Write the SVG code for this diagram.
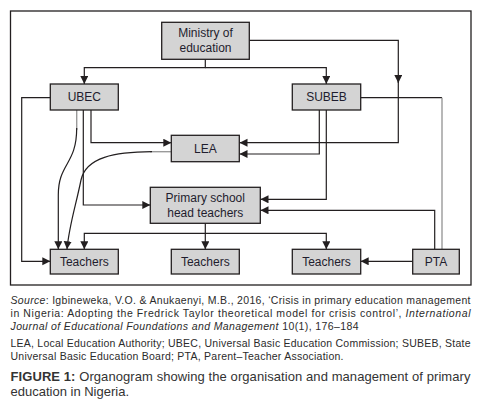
<svg xmlns="http://www.w3.org/2000/svg" width="491" height="405" viewBox="0 0 491 405">
<defs>
<marker id="ah" markerUnits="userSpaceOnUse" markerWidth="9" markerHeight="9" refX="8" refY="4" orient="auto">
<path d="M0,0 L8,4 L0,8 z" fill="#231f20"/>
</marker>
<style>
.box{fill:#d4d4d4;stroke:#231f20;stroke-width:1.3}
.bt{font-family:"Liberation Sans",Arial,sans-serif;font-size:12px;fill:#1f1d2e;text-anchor:middle}
.c{fill:none;stroke:#231f20;stroke-width:1.2}
.g{fill:none;stroke:#9a9a9a;stroke-width:1.4}
.cap{font-family:"Liberation Sans",Arial,sans-serif;font-size:10.5px;fill:#2b2b2b}
.fig{font-family:"Liberation Sans",Arial,sans-serif;font-size:13px;fill:#333}
</style>
</defs>
<rect x="10.5" y="11" width="460.5" height="274" fill="#fff" stroke="#231f20" stroke-width="1.3"/>
<g id="connectors">
<path class="c" d="M205.3,59.3 V67.7 H84.3 V84" marker-end="url(#ah)"/>
<path class="c" d="M205.3,67.7 H326.3 V84" marker-end="url(#ah)"/>
<path class="c" d="M249.3,40.3 H398.3 V83" marker-end="url(#ah)"/>
<path class="c" d="M398.3,80 V142.7 H239.5" marker-end="url(#ah)"/>
<path class="c" d="M319.3,110 V154 H239.5" marker-end="url(#ah)"/>
<path class="c" d="M326.3,110 V199.3 H260.5" marker-end="url(#ah)"/>
<path class="c" d="M360.7,97.7 H442"/>
<path class="g" d="M442,97.7 V249.3"/>
<path class="c" d="M50.3,97.7 H21.7 V261.3 H50.3" marker-end="url(#ah)"/>
<path class="c" d="M83.3,110 V205 H150.3" marker-end="url(#ah)"/>
<path class="c" d="M91,110 V142.7 H171.3" marker-end="url(#ah)"/>
<path class="g" d="M76.7,110 V130" />
<path class="c" stroke="#555" d="M76.7,128 C76.7,165 58.3,163 58.3,195 V249.3" marker-end="url(#ah)"/>
<path class="g" d="M171.3,151.7 H150"/>
<path class="c" stroke="#555" d="M152,151.7 C115,152 86,157 81,180 C76,205 69,226 67,249.3" marker-end="url(#ah)"/>
<path class="c" d="M205.3,223.3 V233.3 H84.3 V249.3" marker-end="url(#ah)"/>
<path class="c" d="M205.3,233.3 V249.3" marker-end="url(#ah)"/>
<path class="c" d="M205.3,233.3 H326.3 V249.3" marker-end="url(#ah)"/>
<path class="c" d="M412.7,261.3 H360.7" marker-end="url(#ah)"/>
<path class="c" d="M434.7,249.3 V210.3 H260.5" marker-end="url(#ah)"/>
</g>
<g id="ministry"><rect class="box" x="161.7" y="22.3" width="87.6" height="37"/><text class="bt" x="205.5" y="36.5">Ministry of</text><text class="bt" x="205.5" y="52">education</text></g>
<g id="ubec"><rect class="box" x="50.3" y="84" width="68" height="26"/><text class="bt" x="84.3" y="101.3">UBEC</text></g>
<g id="subeb"><rect class="box" x="292.3" y="84" width="68.4" height="26"/><text class="bt" x="326.5" y="101.3">SUBEB</text></g>
<g id="lea"><rect class="box" x="171.3" y="135.3" width="68" height="26.4"/><text class="bt" x="205.3" y="152.8">LEA</text></g>
<g id="head"><rect class="box" x="150.3" y="187.3" width="110" height="36"/><text class="bt" x="205.3" y="201.5">Primary school</text><text class="bt" x="205.3" y="216.8">head teachers</text></g>
<g id="teachers1"><rect class="box" x="50.3" y="249.3" width="68" height="24.7"/><text class="bt" x="84.3" y="265.8">Teachers</text></g>
<g id="teachers2"><rect class="box" x="171.3" y="249.3" width="68" height="24.7"/><text class="bt" x="205.3" y="265.8">Teachers</text></g>
<g id="teachers3"><rect class="box" x="292.3" y="249.3" width="68.4" height="24.7"/><text class="bt" x="326.5" y="265.8">Teachers</text></g>
<g id="pta"><rect class="box" x="412.7" y="249.3" width="46.6" height="24.7"/><text class="bt" x="436" y="265.8">PTA</text></g>
<g id="caption">
<text class="cap" x="10.5" y="303.5" textLength="460" lengthAdjust="spacing"><tspan font-style="italic">Source</tspan>: Igbineweka, V.O. &amp; Anukaenyi, M.B., 2016, ‘Crisis in primary education management</text>
<text class="cap" x="10.5" y="316.8" textLength="460" lengthAdjust="spacing">in Nigeria: Adopting the Fredrick Taylor theoretical model for crisis control’, <tspan font-style="italic">International</tspan></text>
<text class="cap" x="10.5" y="330" textLength="348" lengthAdjust="spacing"><tspan font-style="italic">Journal of Educational Foundations and Management</tspan> 10(1), 176–184</text>
<text class="cap" x="10.5" y="346.8" textLength="460" lengthAdjust="spacing">LEA, Local Education Authority; UBEC, Universal Basic Education Commission; SUBEB, State</text>
<text class="cap" x="10.5" y="360" textLength="333" lengthAdjust="spacing">Universal Basic Education Board; PTA, Parent–Teacher Association.</text>
<text class="fig" x="10.5" y="381" textLength="460" lengthAdjust="spacing"><tspan font-weight="bold">FIGURE 1:</tspan> Organogram showing the organisation and management of primary</text>
<text class="fig" x="10.5" y="396">education in Nigeria.</text>
</g>
</svg>
